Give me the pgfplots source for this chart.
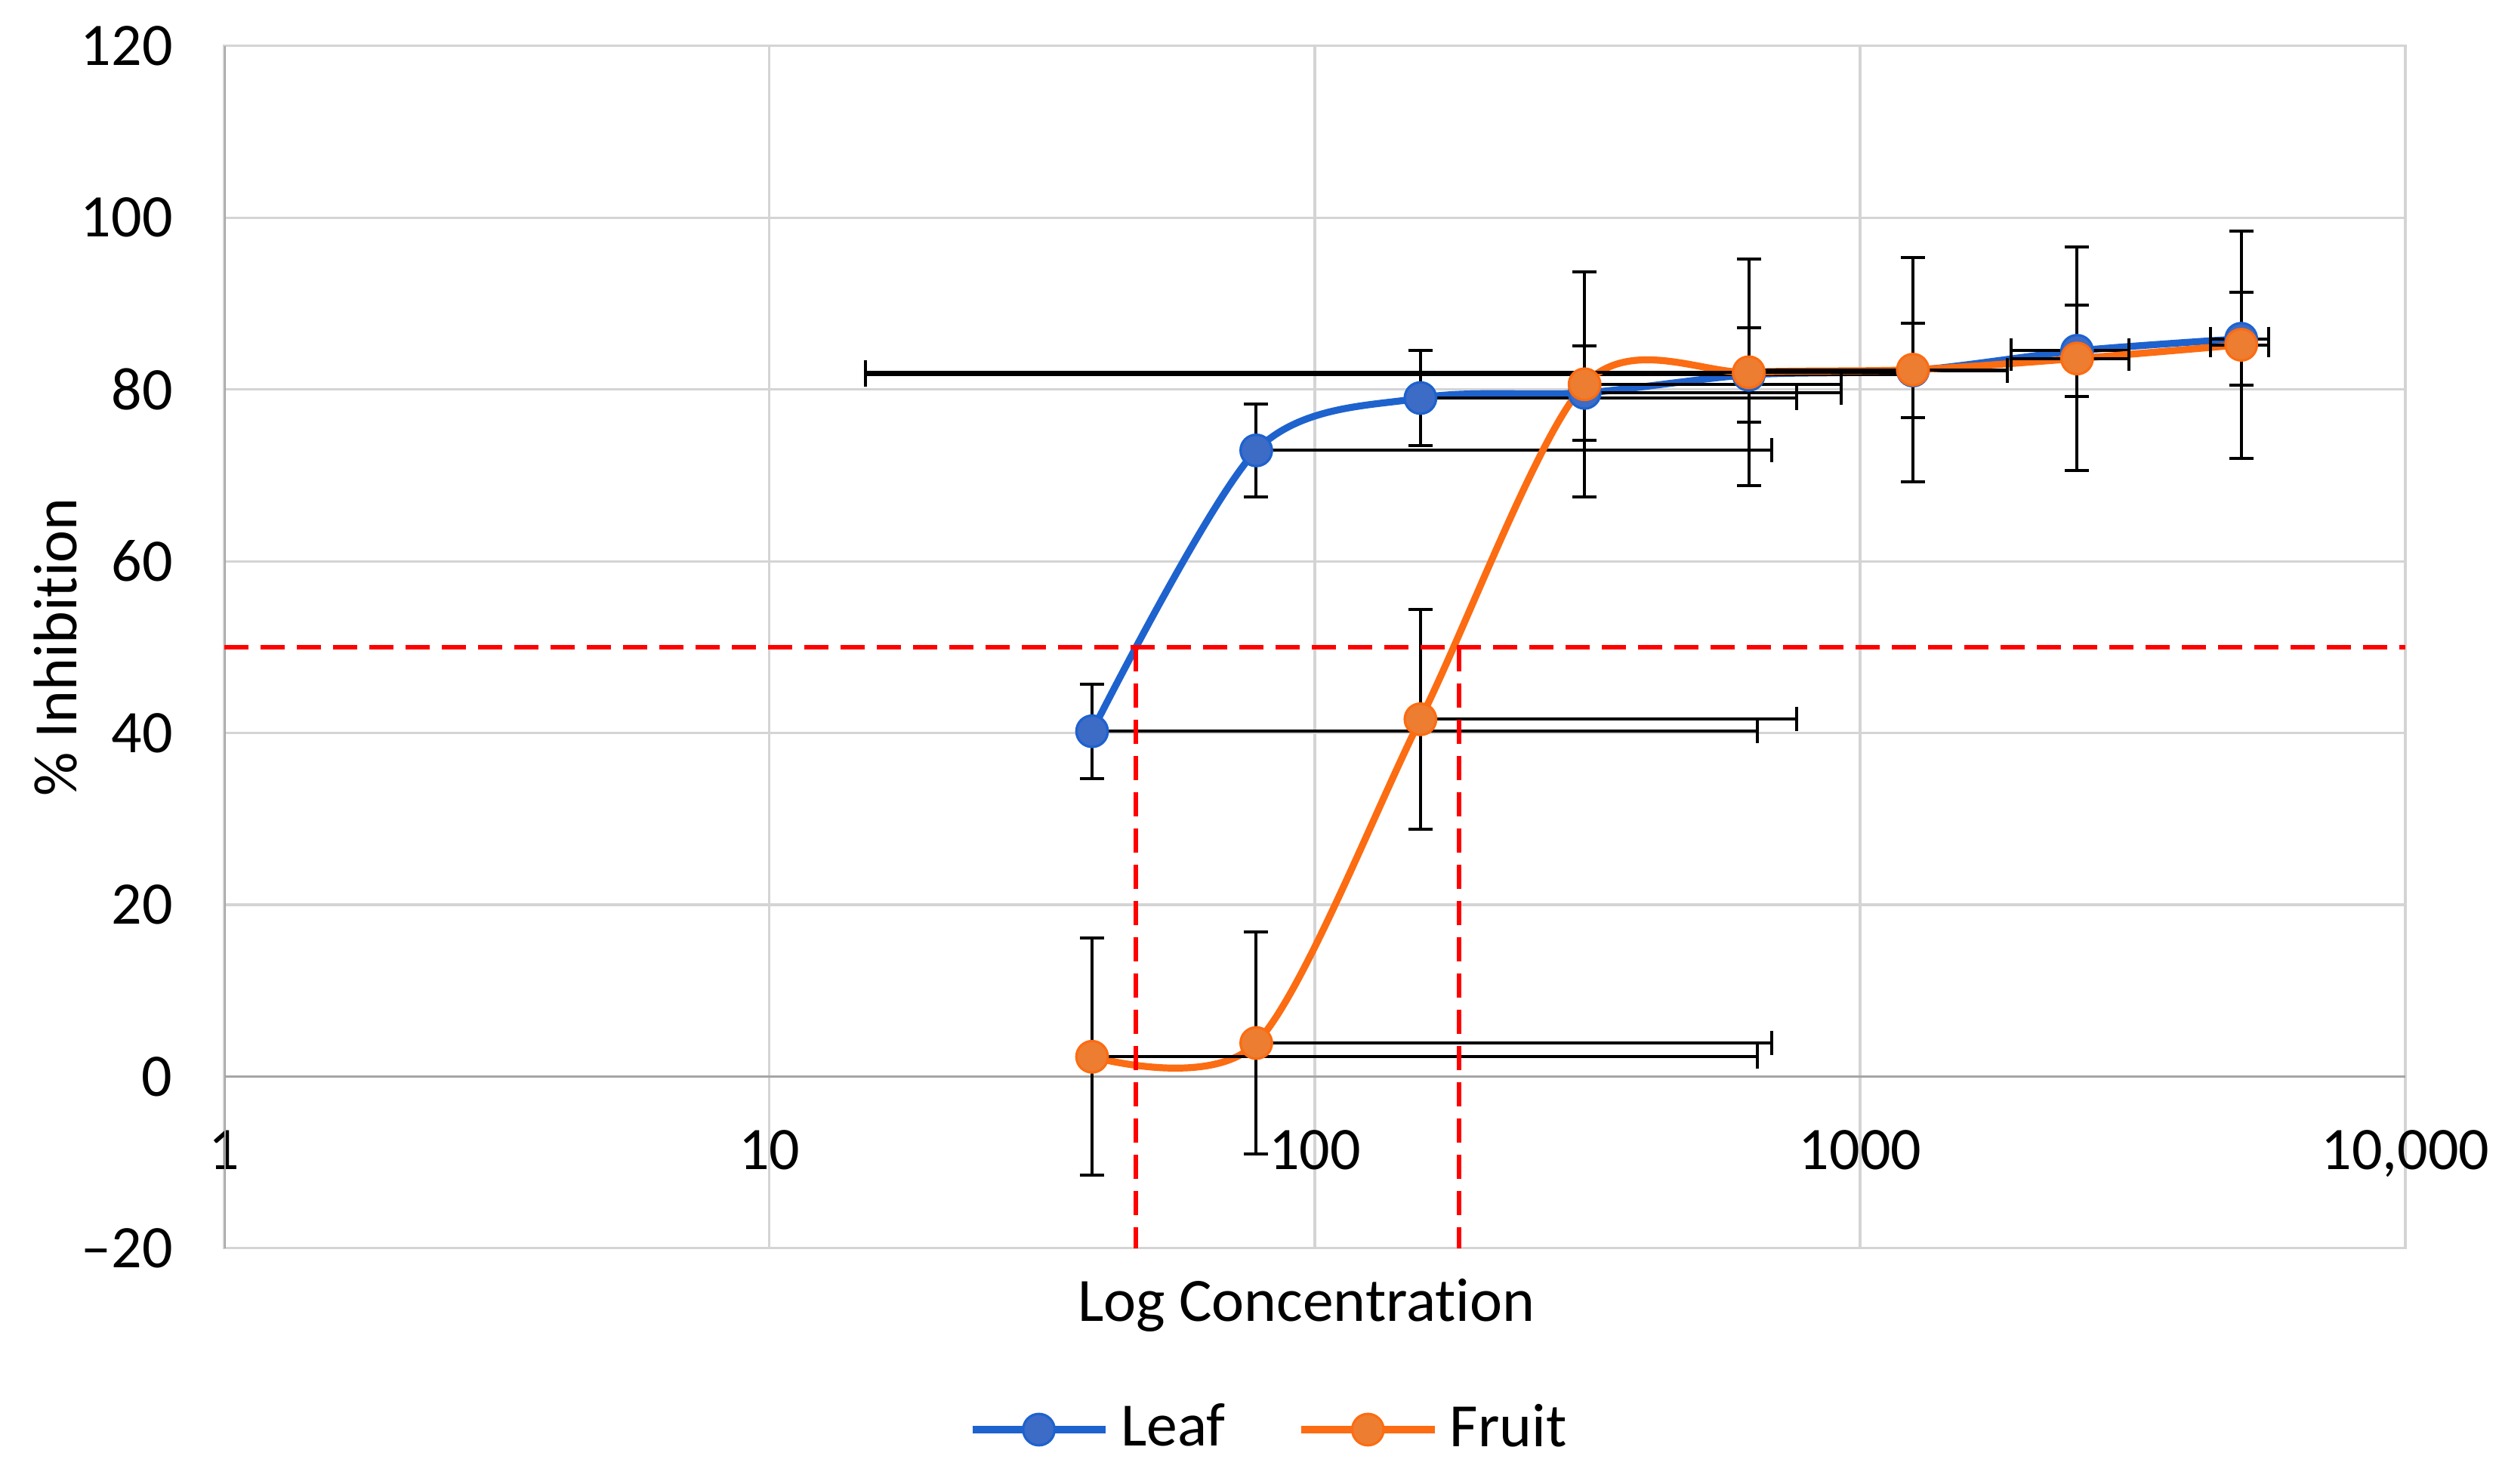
\documentclass[border=0pt]{standalone}
\usepackage{fontspec}
\setmainfont{Carlito}[Ligatures={TeX,NoCommon}]
\usepackage{pgfplots}
\usepackage{pgfplotstable}
\pgfplotsset{compat=1.18}
\definecolor{leafline}{RGB}{30,98,206}
\definecolor{leaffill}{RGB}{60,108,198}
\definecolor{fruitline}{RGB}{252,108,18}
\definecolor{fruitfill}{RGB}{237,125,49}
\definecolor{gridc}{RGB}{212,212,212}
\definecolor{axisc}{RGB}{165,165,165}

\pgfplotstableread{
x y xp xm ey
39.0625 40.2 610 0 5.5
78.125 72.9 610 0 5.4
156.25 79.0 610 0 5.5
312.5 79.6 610 0 5.5
625 81.7 610 610 5.5
1250 82.2 610 610 5.5
2500 84.5 610 610 5.3
5000 85.9 610 610 5.4
}\leaf

\pgfplotstableread{
x y xp xm ey
39.0625 2.3 610 0 13.8
78.125 3.9 610 0 12.9
156.25 41.6 610 0 12.8
312.5 80.6 610 0 13.1
625 82.0 610 610 13.2
1250 82.3 610 610 13.1
2500 83.6 610 610 13.0
5000 85.2 610 610 13.2
}\fruit

\begin{document}
\begin{tikzpicture}
\begin{axis}[
  scale only axis,
  width=361pt, height=199pt,
  at={(0,0)}, anchor=south west,
  xmode=log, xmin=1, xmax=10000, ymin=-20, ymax=120,
  enlargelimits=false,
  xtick={1,10,100,1000,10000},
  xticklabels={1,10,100,1000,{10,000}},
  ytick={-20,0,20,40,60,80,100,120},
  yticklabels={--20,0,20,40,60,80,100,120},
  minor xtick={},
  log basis x=10,
  major tick length=0pt, minor tick length=0pt,
  grid=major,
  major grid style={draw=gridc, line width=0.4pt},
  axis line style={draw=gridc, line width=0.4pt},
  tick label style={font=\fontsize{10}{12}\selectfont},
  xticklabel style={anchor=base, yshift=13pt},
  yticklabel style={anchor=east, xshift=-5.0pt},
  xlabel={Log Concentration},
  ylabel={\% Inhibition},
  label style={font=\fontsize{10.2}{12}\selectfont},
  xlabel style={at={(axis description cs:0.4962,-0.0608)}, anchor=base},
  ylabel style={at={(axis description cs:-0.0773,0.5)}, anchor=center, rotate=0},
  legend columns=2,
  legend style={at={(axis description cs:0.4813,-0.1508)}, anchor=center, draw=none, fill=none,
    font=\fontsize{10.2}{12}\selectfont, inner sep=0pt,
    /tikz/every even column/.append style={column sep=10pt}},
  legend cell align=left,
  legend image code/.code={\draw[mark repeat=2,mark phase=2,#1] plot coordinates {(0pt,0pt) (11pt,0pt) (22pt,0pt)};},
  error bars/error bar style={black, line width=0.5pt, solid},
  error bars/error mark options={rotate=90, black, mark size=2pt, line width=0.5pt, solid},
]
% darker axis lines (vertical axis at x=1, horizontal axis at y=0)
\addplot[axisc, line width=0.45pt, forget plot] coordinates {(1,-20) (1,120)};
\addplot[axisc, line width=0.45pt, forget plot] coordinates {(1,0) (10000,0)};

\addplot[leafline, line width=1.15pt, smooth, mark=*, mark size=2.6pt,
  mark options={fill=leaffill, draw=leafline, line width=0.4pt},
  error bars/.cd, x dir=both, x explicit, y dir=both, y explicit]
  table[x=x, y=y, x error plus=xp, x error minus=xm, y error plus=ey, y error minus=ey] {\leaf};
\addlegendentry{Leaf}

\addplot[fruitline, line width=1.15pt, smooth, mark=*, mark size=2.6pt,
  mark options={fill=fruitfill, draw=fruitline, line width=0.4pt},
  error bars/.cd, x dir=both, x explicit, y dir=both, y explicit]
  table[x=x, y=y, x error plus=xp, x error minus=xm, y error plus=ey, y error minus=ey] {\fruit};
\addlegendentry{Fruit}

% IC50 guide lines
\addplot[red, line width=0.7pt, dash pattern=on 4pt off 2pt, forget plot] coordinates {(1,50) (10000,50)};
\addplot[red, line width=0.7pt, dash pattern=on 4pt off 2pt, forget plot] coordinates {(47,50) (47,-20)};
\addplot[red, line width=0.7pt, dash pattern=on 4pt off 2pt, forget plot] coordinates {(184,50) (184,-20)};
\end{axis}
\pgfresetboundingbox
\useasboundingbox (-37.1pt,-38.9pt) rectangle (377pt,206.6pt);
\end{tikzpicture}
\end{document}
